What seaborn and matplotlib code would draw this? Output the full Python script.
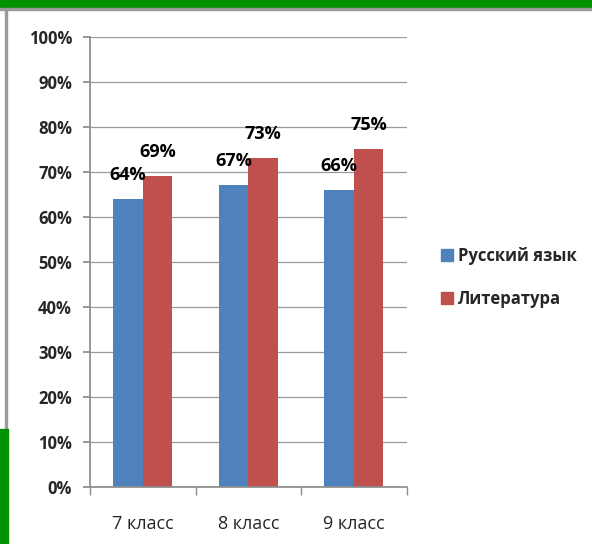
import pandas as pd
import matplotlib.pyplot as plt
import matplotlib.ticker as mticker
from matplotlib.patches import Rectangle
import seaborn as sns

# ── Data ──────────────────────────────────────────────────────────────────────
classes = ["7 класс", "8 класс", "9 класс"]
subjects = ["Русский язык", "Литература"]
russian = [64, 67, 66]
literature = [69, 73, 75]

COLORS = ["#4F81BD", "#C0504D"]
FONT = ["Open Sans", "DejaVu Sans"]

df = pd.DataFrame({
    "Класс": classes * 2,
    "Предмет": [subjects[0]] * 3 + [subjects[1]] * 3,
    "Значение": russian + literature,
})

sns.set_theme(style="white")
plt.rcParams["font.family"] = FONT

fig = plt.figure(figsize=(5.92, 5.44), dpi=100)
ax = fig.add_axes([0.152, 0.105, 0.535, 0.827])

sns.barplot(data=df, x="Класс", y="Значение", hue="Предмет",
            palette=COLORS, width=0.56, saturation=1, linewidth=0,
            ax=ax, legend=False)

# data labels
for container in ax.containers:
    ax.bar_label(container, labels=[f"{v:.0f}%" for v in container.datavalues],
                 padding=11, fontsize=13, fontweight="bold", color="black")

ax.set_ylim(0, 100)
ax.set_xlim(-0.5, 2.5)
ax.yaxis.set_major_locator(mticker.MultipleLocator(10))
ax.yaxis.set_major_formatter(mticker.PercentFormatter(100, decimals=0))
ax.grid(axis="y", color="#999999", linewidth=0.9)
ax.set_axisbelow(True)
for s in ["top", "right"]:
    ax.spines[s].set_visible(False)
for s in ["left", "bottom"]:
    ax.spines[s].set_color("#8c8c8c")
ax.tick_params(axis="y", length=5, color="#8c8c8c", labelsize=12, pad=8, left=True)
ax.set_yticklabels(ax.get_yticklabels(), fontweight="bold")
ax.set_xticks([-0.5, 0.5, 1.5, 2.5], minor=True)
ax.tick_params(axis="x", which="minor", length=6, color="#8c8c8c", bottom=True)
ax.tick_params(axis="x", which="major", length=0, labelsize=13, pad=20)
ax.set_xlabel("")
ax.set_ylabel("")

# legend
handles = [Rectangle((0, 0), 1, 1, color=c) for c in COLORS]
fig.legend(handles, subjects, loc="center left", bbox_to_anchor=(0.72, 0.49),
           frameon=False, handlelength=0.7, handleheight=0.7, handletextpad=0.3,
           labelspacing=1.5, prop={"weight": "bold", "size": 12, "family": FONT})

# slide frame decorations
fig.patches.append(Rectangle((0, 0.985), 1, 0.015, transform=fig.transFigure,
                             color="#009000", zorder=5))
fig.patches.append(Rectangle((0, 0.982), 1, 0.004, transform=fig.transFigure,
                             color="#9a9a9a", zorder=5))
fig.patches.append(Rectangle((0.008, 0.213), 0.003, 0.77, transform=fig.transFigure,
                             color="#9a9a9a", zorder=5))
fig.patches.append(Rectangle((0, 0), 0.013, 0.212, transform=fig.transFigure,
                             color="#009000", zorder=5))

fig.savefig("out.png", dpi=100)
